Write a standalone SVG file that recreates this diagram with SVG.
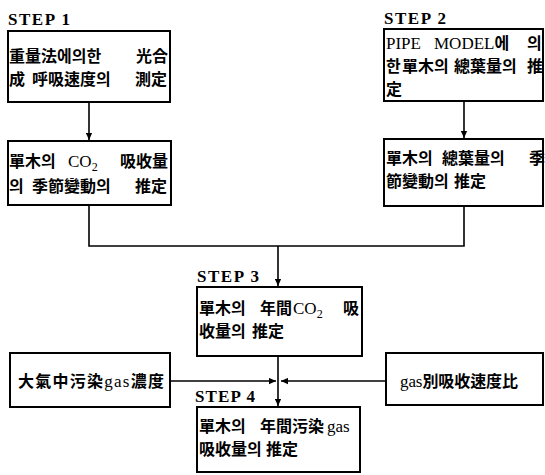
<svg xmlns="http://www.w3.org/2000/svg" width="545" height="475" viewBox="0 0 545 475">
<style>
rect.box{fill:#fff;stroke:#000;stroke-width:2}
.c{stroke:#000;stroke-width:1.6;fill:none}
text{font-family:"Noto Sans CJK KR","Noto Sans CJK SC",sans-serif;font-size:16px;font-weight:bold;fill:#000}
.lat{font-family:"Liberation Serif",serif;font-weight:normal;font-size:17px}
.step{font-family:"Liberation Serif",serif;font-weight:bold;font-size:17px}
.sub{font-family:"Liberation Serif",serif;font-weight:normal;font-size:12px}
</style>
<defs>
<marker id="ah" viewBox="0 0 10 10" refX="10" refY="5" markerWidth="9" markerHeight="7" markerUnits="userSpaceOnUse" orient="auto"><path d="M0,0.5 L10,5 L0,9.5 z" fill="#000"/></marker>
</defs>
<g id="connectors">
<line class="c" x1="89" y1="102" x2="89" y2="140" marker-end="url(#ah)"/>
<line class="c" x1="464" y1="101" x2="464" y2="138" marker-end="url(#ah)"/>
<polyline class="c" points="89,205 89,246 464,246 464,205"/>
<line class="c" x1="278" y1="246" x2="278" y2="286" marker-end="url(#ah)"/>
<line class="c" x1="278" y1="356" x2="278" y2="406" marker-end="url(#ah)"/>
<line class="c" x1="170" y1="381" x2="276" y2="381" marker-end="url(#ah)"/>
<line class="c" x1="386" y1="381" x2="281" y2="381" marker-end="url(#ah)"/>
</g>
<g id="step1">
<text class="step" x="8" y="25" textLength="62">STEP 1</text>
<rect class="box" x="8" y="31" width="162" height="71"/>
<text y="62"><tspan x="9">重量法에의한</tspan><tspan x="136">光合</tspan></text>
<text y="85"><tspan x="9">成</tspan><tspan x="32">呼吸速度의</tspan><tspan x="135">測定</tspan></text>
</g>
<g id="step1b">
<rect class="box" x="8" y="141" width="163" height="64"/>
<text y="167"><tspan x="9">單木의</tspan><tspan class="lat" x="68">CO</tspan><tspan class="sub" dy="4">2</tspan><tspan x="120" dy="-4">吸收量</tspan></text>
<text y="192"><tspan x="9">의</tspan><tspan x="32">季節變動의</tspan><tspan x="135">推定</tspan></text>
</g>
<g id="step2">
<text class="step" x="384" y="24" textLength="62">STEP 2</text>
<rect class="box" x="384" y="29" width="159" height="72"/>
<text y="49"><tspan class="lat" x="386">PIPE</tspan><tspan class="lat" x="434">MODEL</tspan><tspan>에</tspan><tspan x="527">의</tspan></text>
<text y="72"><tspan x="386">한</tspan><tspan x="402">單木의</tspan><tspan x="454">總葉量의</tspan><tspan x="527">推</tspan></text>
<text y="95"><tspan x="386">定</tspan></text>
</g>
<g id="step2b">
<rect class="box" x="384" y="139" width="159" height="67"/>
<text y="164"><tspan x="386">單木의</tspan><tspan x="442">總葉量의</tspan><tspan x="529">季</tspan></text>
<text y="187"><tspan x="386">節變動의</tspan><tspan x="454">推定</tspan></text>
</g>
<g id="step3">
<text class="step" x="197" y="282" textLength="62">STEP 3</text>
<rect class="box" x="197" y="287" width="165" height="69"/>
<text y="314"><tspan x="199">單木의</tspan><tspan x="260">年間</tspan><tspan class="lat" x="293">CO</tspan><tspan class="sub" dy="4">2</tspan><tspan x="343" dy="-4">吸</tspan></text>
<text y="337"><tspan x="199">收量의</tspan><tspan x="252">推定</tspan></text>
</g>
<g id="input1">
<rect class="box" x="10" y="353" width="160" height="54"/>
<text x="18" y="387" textLength="146" lengthAdjust="spacing">大氣中污染<tspan class="lat">gas</tspan>濃度</text>
</g>
<g id="input2">
<rect class="box" x="386" y="353" width="157" height="52"/>
<text x="400" y="387" textLength="118" lengthAdjust="spacing"><tspan class="lat">gas</tspan>別吸收速度比</text>
</g>
<g id="step4">
<text class="step" x="195" y="402" textLength="60">STEP 4</text>
<rect class="box" x="197" y="407" width="163" height="65"/>
<text y="432"><tspan x="199">單木의</tspan><tspan x="260">年間污染</tspan><tspan class="lat" x="327">gas</tspan></text>
<text y="455"><tspan x="199">吸收量의</tspan><tspan x="266">推定</tspan></text>
</g>
</svg>
